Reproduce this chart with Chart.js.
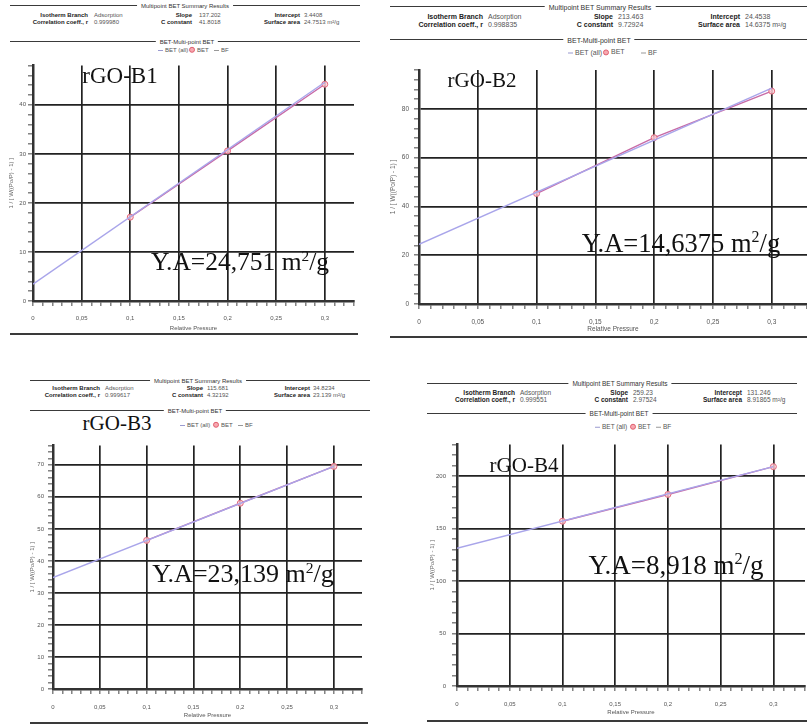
<!DOCTYPE html>
<html><head><meta charset="utf-8">
<script src="https://cdn.jsdelivr.net/npm/chart.js@4.4.1/dist/chart.umd.min.js"></script>
<style>
html,body{margin:0;padding:0;width:807px;height:725px;overflow:hidden;background:#fff;}
.hl{position:absolute;height:0;border-top:1.6px solid #3a3a3a;}
.txt{position:absolute;white-space:nowrap;font-family:'Liberation Sans',Arial,sans-serif;line-height:1;}
.ttl{transform:translate(-50%,-50%);background:#fff;padding:0 4px;color:#333;}
.lab{transform:translate(-100%,-50%);font-weight:bold;color:#222;}
.val{transform:translate(0,-50%);color:#555;}
.leg{transform:translate(0,-50%);color:#555;}
.sample{position:absolute;white-space:nowrap;font-family:'Liberation Serif','Times New Roman',serif;color:#111;transform:translate(-50%,-50%);line-height:1;z-index:3;}
.sample sup{font-size:0.6em;vertical-align:0.6em;line-height:0;}
</style>
</head><body>
<script>
// ---------------- DATA ----------------
const sampleNames = ['rGO-B1', 'rGO-B2', 'rGO-B3', 'rGO-B4'];
const relPressure = [0.1, 0.2, 0.3];
const fitPressure = [0, 0.3];
const betB1 = [17.1, 30.6, 44.2];
const fitB1 = [3.44, 44.6];
const betB2 = [45.3, 68.2, 87.3];
const fitB2 = [24.45, 88.5];
const betB3 = [46.4, 58.0, 69.5];
const fitB3 = [34.8, 69.5];
const betB4 = [157.0, 182.5, 209.0];
const fitB4 = [131.2, 209.0];
const slopeText = ['137.202', '213.463', '115.681', '259.23'];
const interceptText = ['3.4408', '24.4538', '34.8234', '131.246'];
const corrText = ['0.999980', '0.998835', '0.999617', '0.999551'];
const cConstText = ['41.8018', '9.72924', '4.32192', '2.97524'];
const surfaceText = ['24.7513', '14.6375', '23.139', '8.91865'];
const areaText = ['24,751', '14,6375', '23,139', '8,918'];
const xMax = 0.33, xStep = 0.01;
const yMaxes = [48, 96, 76, 230];
const ySteps = [2, 4, 2, 10];

const bets = [betB1, betB2, betB3, betB4];
const fits = [fitB1, fitB2, fitB3, fitB4];

// ---------------- LAYOUT ----------------
const F = "'Liberation Sans', Arial, sans-serif";
const plots = [
  {L:33,  R:358.6, T:64.4,  B:301, wy:33, hx:33, yTitlePad:8, yTickPad:2, xTickPad:9,  xTitlePadB:2,   fs:6},
  {L:419, R:811.7, T:65,    B:304, wy:33, hx:30, yTitlePad:3, yTickPad:5, xTickPad:9,  xTitlePadB:0.5, fs:6.5},
  {L:53,  R:367.5, T:442.5, B:689, wy:30, hx:30, yTitlePad:6, yTickPad:4, xTickPad:10, xTitlePadB:0.5, fs:6},
  {L:457, R:811,   T:439.9, B:686, wy:35, hx:30, yTitlePad:7, yTickPad:6, xTickPad:10, xTitlePadB:0.5, fs:6}
];
const hdr = [
  {fs:6,   l1:{y:5,  x0:10, x1:360, cx:185}, r1:15,  r2:22,  labR:[88,192,300],  valL:[94,199,304],  l2:{y:41, x0:10, x1:360, cx:187}, leg:{y:50, x:[158,189,214]},  bot:{y:333, x0:10, x1:358}},
  {fs:7,   l1:{y:6,  x0:390,x1:807, cx:600}, r1:16,  r2:24,  labR:[483,613,740], valL:[488,618,745], l2:{y:39, x0:390,x1:807, cx:599}, leg:{y:52, x:[568,603,641]},  bot:{y:336, x0:390,x1:807}},
  {fs:6,   l1:{y:380,x0:30, x1:370, cx:198}, r1:388, r2:395, labR:[100,203,310], valL:[105,207,313], l2:{y:410,x0:30, x1:370, cx:195}, leg:{y:425,x:[180,213,238]},  bot:{y:722, x0:30, x1:368}},
  {fs:6.5, l1:{y:383,x0:427,x1:797, cx:620}, r1:393, r2:400, labR:[515,628,742], valL:[520,633,747], l2:{y:413,x0:427,x1:797, cx:619}, leg:{y:427,x:[595,630,656]},  bot:{y:720, x0:427,x1:807}}
];
const samplePos = [
  {nx:120, ny:75,  ns:23, ax:240, ay:262, as:25.5},
  {nx:482, ny:80,  ns:21, ax:681, ay:243, as:26.5},
  {nx:117, ny:423, ns:21, ax:243, ay:574, as:26},
  {nx:524, ny:465, ns:21, ax:676, ay:565, as:27}
];

function el(tag, cls, css, html){
  const e = document.createElement(tag);
  if (cls) e.className = cls;
  e.style.cssText = css;
  if (html !== undefined) e.innerHTML = html;
  document.body.appendChild(e);
  return e;
}
function fmtX(v){
  let s = (Math.round(v*100)/100).toString();
  return s.replace('.', ',');
}

function header(i){
  const h = hdr[i];
  el('div','hl',`left:${h.l1.x0}px;top:${h.l1.y}px;width:${h.l1.x1-h.l1.x0}px;`);
  el('div','txt ttl',`left:${h.l1.cx}px;top:${h.l1.y+1}px;font-size:${h.fs}px;`,'Multipoint BET Summary Results');
  const labs1 = ['Isotherm Branch','Slope','Intercept'];
  const vals1 = ['Adsorption', slopeText[i], interceptText[i]];
  const labs2 = ['Correlation coeff., r','C constant','Surface area'];
  const vals2 = [corrText[i], cConstText[i], surfaceText[i] + ' m²/g'];
  for (let k=0;k<3;k++){
    el('div','txt lab',`left:${h.labR[k]}px;top:${h.r1}px;font-size:${h.fs}px;`,labs1[k]);
    el('div','txt val',`left:${h.valL[k]}px;top:${h.r1}px;font-size:${h.fs}px;`,vals1[k]);
    el('div','txt lab',`left:${h.labR[k]}px;top:${h.r2}px;font-size:${h.fs}px;`,labs2[k]);
    el('div','txt val',`left:${h.valL[k]}px;top:${h.r2}px;font-size:${h.fs}px;`,vals2[k]);
  }
  el('div','hl',`left:${h.l2.x0}px;top:${h.l2.y}px;width:${h.l2.x1-h.l2.x0}px;`);
  el('div','txt ttl',`left:${h.l2.cx}px;top:${h.l2.y+1}px;font-size:${h.fs}px;`,'BET-Multi-point BET');
  const lg = h.leg;
  el('div','txt leg',`left:${lg.x[0]}px;top:${lg.y}px;font-size:${h.fs}px;`,
     '<span style="display:inline-block;width:5px;height:0;border-top:1px solid #9a9ad0;vertical-align:middle;margin-right:2px"></span>BET (all)');
  el('div','txt leg',`left:${lg.x[1]}px;top:${lg.y}px;font-size:${h.fs}px;`,
     '<span style="display:inline-block;width:4px;height:4px;border:1px solid #e06070;background:#f7a8b0;border-radius:50%;vertical-align:middle;margin-right:2px"></span>BET');
  el('div','txt leg',`left:${lg.x[2]}px;top:${lg.y}px;font-size:${h.fs}px;`,
     '<span style="display:inline-block;width:5px;height:0;border-top:1px solid #999;vertical-align:middle;margin-right:2px"></span>BF');
  el('div','hl',`left:${h.bot.x0}px;top:${h.bot.y}px;width:${h.bot.x1-h.bot.x0}px;border-top-width:2px;`);
}

function makeChart(i){
  const P = plots[i];
  const left = P.L - P.wy;
  const top = Math.floor(P.T) - 4;
  const width = Math.ceil(P.R) + 4 - left;
  const height = Math.ceil(P.B + P.hx) - top;
  const div = el('div','',`position:absolute;left:${left}px;top:${top}px;width:${width}px;height:${height}px;z-index:1;`);
  const cv = document.createElement('canvas');
  div.appendChild(cv);
  const tickFont = {size:P.fs, family:F};
  new Chart(cv, {
    type:'scatter',
    data:{datasets:[
      {label:'BF', data: fitPressure.map((x,k)=>({x:x, y:fits[i][k]})), showLine:true,
       borderColor:'#a9a5ea', borderWidth:1.4, pointRadius:0},
      {label:'BET', data: relPressure.map((x,k)=>({x:x, y:bets[i][k]})), showLine:true,
       borderColor:'#c86aa6', borderWidth:1.4, pointRadius:3, pointBorderColor:'#e2687e',
       pointBackgroundColor:'rgba(255,205,212,0.8)', pointBorderWidth:1}
    ]},
    options:{
      responsive:true, maintainAspectRatio:false, animation:false,
      layout:{autoPadding:false, padding:{left:0, top:P.T-top, right:left+width-P.R, bottom:top+height-(P.B+P.hx)}},
      plugins:{legend:{display:false}, tooltip:{enabled:false}},
      scales:{
        x:{type:'linear', min:0, max:xMax,
           afterFit:s=>{s.height=P.hx;},
           ticks:{stepSize:xStep, autoSkip:false, maxRotation:0, minRotation:0, padding:P.xTickPad, font:tickFont, color:'#555',
                  callback:(v,idx)=> idx%5===0 ? fmtX(v) : ''},
           grid:{color:c=> (c.index%5===0) ? '#222' : 'rgba(0,0,0,0)', lineWidth:1.7, tickColor:'#444', tickWidth:1, tickLength:5},
           border:{display:true, color:'#333', width:2.5},
           title:{display:true, text:'Relative Pressure', font:tickFont, color:'#555', padding:{top:0, bottom:P.xTitlePadB}}
        },
        y:{type:'linear', min:0, max:yMaxes[i],
           afterFit:s=>{s.width=P.wy;},
           ticks:{stepSize:ySteps[i], autoSkip:false, padding:P.yTickPad, font:tickFont, color:'#555',
                  callback:(v,idx)=> idx%5===0 ? String(v) : ''},
           grid:{color:c=> (c.index%5===0) ? '#222' : 'rgba(0,0,0,0)', lineWidth:1.7, tickColor:'#444', tickWidth:1, tickLength:5},
           border:{display:true, color:'#333', width:2.5},
           title:{display:true, text:'1 / [ W((Po/P) - 1) ]', font:tickFont, color:'#666', padding:{top:P.yTitlePad, bottom:0}}
        }
      }
    }
  });
}

for (let i=0;i<4;i++){
  header(i);
  makeChart(i);
  const S = samplePos[i];
  el('div','sample',`left:${S.nx}px;top:${S.ny}px;font-size:${S.ns}px;`, sampleNames[i]);
  el('div','sample',`left:${S.ax}px;top:${S.ay}px;font-size:${S.as}px;`, 'Y.A=' + areaText[i] + ' m<sup>2</sup>/g');
}
</script>
</body></html>
